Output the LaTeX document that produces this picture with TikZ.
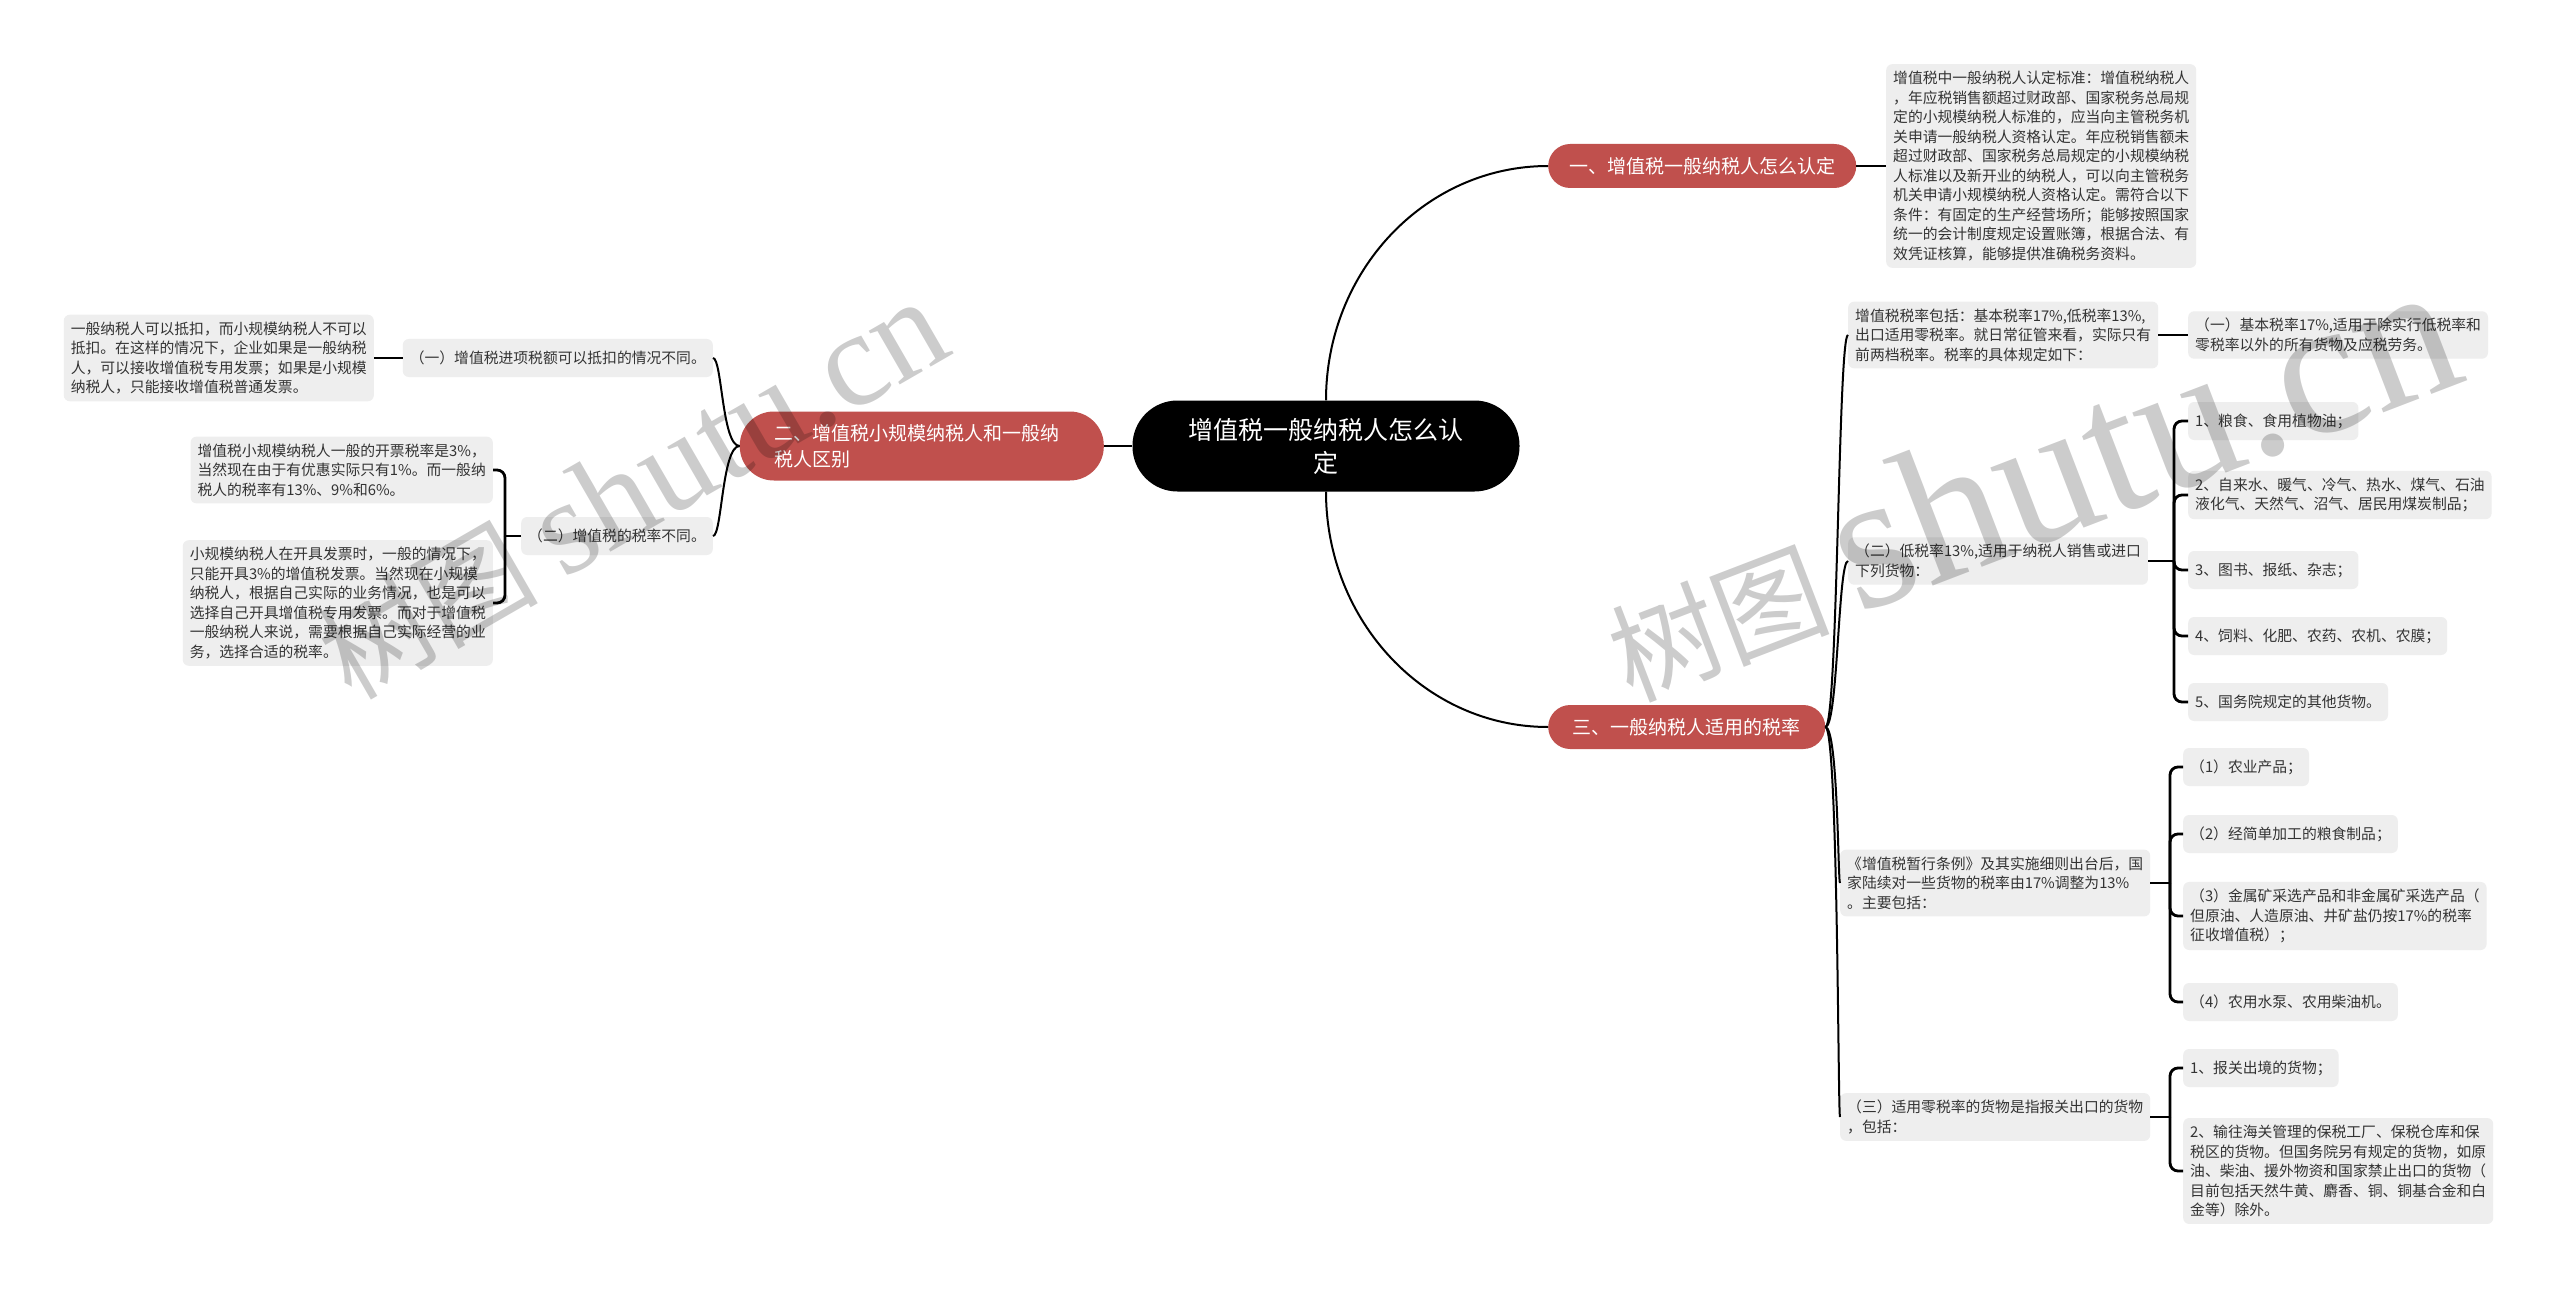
\documentclass[tikz,border=0pt]{standalone}
\usepackage{fontspec}
\setmainfont{Noto Sans CJK SC}
\newfontfamily\wmfont{Liberation Serif}
\definecolor{redb}{HTML}{C0504D}
\definecolor{leafg}{HTML}{EEEEEE}
\definecolor{txtg}{HTML}{333333}
\begin{document}
\begin{tikzpicture}[x=1pt,y=-1pt,
  conn/.style={line width=2pt},
  brk/.style={line width=2.8pt, rounded corners=8pt},
  leaf/.style={fill=leafg, text=txtg, rounded corners=6pt, font=\fontsize{14.8}{19.5}\selectfont, inner xsep=7pt, inner ysep=7pt, align=left, minimum height=38pt},
  branch/.style={fill=redb, text=white, font=\fontsize{19}{26}\selectfont, inner sep=0pt, minimum height=44pt, rounded corners=22pt},
  rootn/.style={fill=black, text=white, font=\fontsize{25}{33}\selectfont, align=center, minimum width=387pt, minimum height=91pt, rounded corners=45pt, inner sep=0pt},
  wm/.style={text=black, text opacity=0.2, inner sep=0pt, anchor=base west}
]
\useasboundingbox[fill=white] (0,0) rectangle (2560,1289);

% root and branches
\node[rootn] (root) at (1326,446) {增值税一般纳税人怎么认\\定};
\node[branch, minimum width=308pt, anchor=west] (b1) at (1548,166) {一、增值税一般纳税人怎么认定};
\node[branch, anchor=east, align=left, text width=294pt, inner xsep=35pt, minimum height=69pt, rounded corners=34pt] (b2) at (1104,446) {二、增值税小规模纳税人和一般纳\\税人区别};
\node[branch, minimum width=277pt, anchor=west] (b3) at (1548,727) {三、一般纳税人适用的税率};

% branch 1 leaf
\node[leaf, anchor=west] (l1) at (1886,166) {增值税中一般纳税人认定标准：增值税纳税人\\，年应税销售额超过财政部、国家税务总局规\\定的小规模纳税人标准的，应当向主管税务机\\关申请一般纳税人资格认定。年应税销售额未\\超过财政部、国家税务总局规定的小规模纳税\\人标准以及新开业的纳税人，可以向主管税务\\机关申请小规模纳税人资格认定。需符合以下\\条件：有固定的生产经营场所；能够按照国家\\统一的会计制度规定设置账簿，根据合法、有\\效凭证核算，能够提供准确税务资料。};

% branch 2 children
\node[leaf, anchor=east] (b2a) at (713,358) {（一）增值税进项税额可以抵扣的情况不同。};
\node[leaf, anchor=east] (b2b) at (713,536) {（二）增值税的税率不同。};
\node[leaf, anchor=east] (l2a) at (374,358) {一般纳税人可以抵扣，而小规模纳税人不可以\\抵扣。在这样的情况下，企业如果是一般纳税\\人，可以接收增值税专用发票；如果是小规模\\纳税人，只能接收增值税普通发票。};
\node[leaf, anchor=east] (l2b1) at (493,470) {增值税小规模纳税人一般的开票税率是3\%，\\当然现在由于有优惠实际只有1\%。而一般纳\\税人的税率有13\%、9\%和6\%。};
\node[leaf, anchor=east] (l2b2) at (493,603) {小规模纳税人在开具发票时，一般的情况下，\\只能开具3\%的增值税发票。当然现在小规模\\纳税人，根据自己实际的业务情况，也是可以\\选择自己开具增值税专用发票。而对于增值税\\一般纳税人来说，需要根据自己实际经营的业\\务，选择合适的税率。};

% branch 3 children
\node[leaf, anchor=west] (c31) at (1848,335) {增值税税率包括：基本税率17\%,低税率13\%,\\出口适用零税率。就日常征管来看，实际只有\\前两档税率。税率的具体规定如下：};
\node[leaf, anchor=west] (c31a) at (2188,335) {（一）基本税率17\%,适用于除实行低税率和\\零税率以外的所有货物及应税劳务。};
\node[leaf, anchor=west] (c32) at (1848,561) {（二）低税率13\%,适用于纳税人销售或进口\\下列货物：};
\node[leaf, anchor=west] (k1) at (2188,421) {1、粮食、食用植物油；};
\node[leaf, anchor=west] (k2) at (2188,495) {2、自来水、暖气、冷气、热水、煤气、石油\\液化气、天然气、沼气、居民用煤炭制品；};
\node[leaf, anchor=west] (k3) at (2188,570) {3、图书、报纸、杂志；};
\node[leaf, anchor=west] (k4) at (2188,636) {4、饲料、化肥、农药、农机、农膜；};
\node[leaf, anchor=west] (k5) at (2188,702) {5、国务院规定的其他货物。};
\node[leaf, anchor=west] (c33) at (1840,883) {《增值税暂行条例》及其实施细则出台后，国\\家陆续对一些货物的税率由17\%调整为13\%\\。主要包括：};
\node[leaf, anchor=west] (m1) at (2183,767) {（1）农业产品；};
\node[leaf, anchor=west] (m2) at (2183,834) {（2）经简单加工的粮食制品；};
\node[leaf, anchor=west] (m3) at (2183,916) {（3）金属矿采选产品和非金属矿采选产品（\\但原油、人造原油、井矿盐仍按17\%的税率\\征收增值税）；};
\node[leaf, anchor=west] (m4) at (2183,1002) {（4）农用水泵、农用柴油机。};
\node[leaf, anchor=west] (c34) at (1840,1117) {（三）适用零税率的货物是指报关出口的货物\\，包括：};
\node[leaf, anchor=west] (n1) at (2183,1068) {1、报关出境的货物；};
\node[leaf, anchor=west] (n2) at (2183,1171) {2、输往海关管理的保税工厂、保税仓库和保\\税区的货物。但国务院另有规定的货物，如原\\油、柴油、援外物资和国家禁止出口的货物（\\目前包括天然牛黄、麝香、铜、铜基合金和白\\金等）除外。};

% junctions
\coordinate (j2b) at (505,536);
\coordinate (j32) at (2174,561);
\coordinate (j33) at (2170,883);
\coordinate (j34) at (2170,1117);

% connectors
\draw[conn] (root.north) .. controls (1326,271) and (1425,166) .. (b1.west);
\draw[conn] (root.south) .. controls (1326,621) and (1425,727) .. (b3.west);
\draw[conn] (root.west) -- (b2.east);
\draw[conn] (b1.east) -- (l1.west);

\draw[conn] (b2.west) .. controls (722,446) and (722,358) .. (b2a.east);
\draw[conn] (b2.west) .. controls (722,446) and (722,536) .. (b2b.east);
\draw[brk] (b2a.west) -- (l2a.east);
\draw[brk] (b2b.west) -- (j2b);
\draw[brk] (j2b) |- (l2b1.east);
\draw[brk] (j2b) |- (l2b2.east);

\draw[conn] (b3.east) .. controls (1838,727) and (1838,335) .. (c31.west);
\draw[conn] (b3.east) .. controls (1838,727) and (1838,561) .. (c32.west);
\draw[conn] (b3.east) .. controls (1838,727) and (1838,883) .. (c33.west);
\draw[conn] (b3.east) .. controls (1838,727) and (1838,1117) .. (c34.west);

\draw[brk] (c31.east) -- (c31a.west);
\draw[brk] (c32.east) -- (j32);
\foreach \k in {k1,k2,k3,k4,k5} \draw[brk] (j32) |- (\k.west);
\draw[brk] (c33.east) -- (j33);
\foreach \k in {m1,m2,m3,m4} \draw[brk] (j33) |- (\k.west);
\draw[brk] (c34.east) -- (j34);
\foreach \k in {n1,n2} \draw[brk] (j34) |- (\k.west);

% watermarks
\node[wm, rotate=30] (wm1) at (351,702) {\fontsize{110}{110}\selectfont 树图 {\wmfont\fontsize{135}{135}\selectfont shutu.cn}};
\node[wm, rotate=21] (wm2) at (1630,702) {\fontsize{110}{110}\selectfont 树图 {\wmfont\fontsize{195}{195}\selectfont shutu.cn}};
\end{tikzpicture}
\end{document}
